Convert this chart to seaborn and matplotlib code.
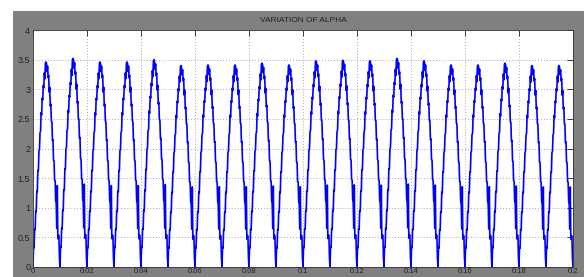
import numpy as np
import pandas as pd
import matplotlib
matplotlib.use("Agg")
import matplotlib.pyplot as plt
import seaborn as sns
from matplotlib.patches import Rectangle

# ---- data ----
title_text = "VARIATION OF ALPHA"
period = 0.01
n_cycles = 20
# one cycle of the (noisy) waveform, value every 0.0002 s
cycle_shape = [0.00, 0.33, 0.32, 0.63, 0.62, 0.93, 0.92, 1.26, 1.25, 1.60,
               1.60, 1.93, 1.95, 2.23, 2.25, 2.56, 2.52, 2.80, 2.77, 3.01,
               2.97, 3.22, 3.12, 3.38, 3.40, 3.38, 3.24, 3.33, 3.14, 3.18,
               2.90, 2.98, 2.67, 2.70, 2.42, 2.41, 2.10, 2.11, 1.77, 1.76,
               1.44, 1.43, 1.10, 1.06, 0.64, 1.35, 0.47, 0.53, 0.52, 0.15]
# peak value of each of the 20 cycles
cycle_peaks = [3.46, 3.52, 3.46, 3.46, 3.50, 3.40, 3.41, 3.41, 3.44, 3.41,
               3.48, 3.49, 3.48, 3.52, 3.48, 3.41, 3.41, 3.44, 3.40, 3.40]
x_ticks = [0, 0.02, 0.04, 0.06, 0.08, 0.1, 0.12, 0.14, 0.16, 0.18, 0.2]
x_tick_labels = ["0", "0.02", "0.04", "0.06", "0.08", "0.1", "0.12", "0.14", "0.16", "0.18", "0.2"]
y_ticks = [0, 0.5, 1, 1.5, 2, 2.5, 3, 3.5, 4]
y_tick_labels = ["0", "0.5", "1", "1.5", "2", "2.5", "3", "3.5", "4"]

# ---- build series ----
shape = np.array(cycle_shape)
n = len(shape)
dt = period / n
t_vals, y_vals = [], []
for k, pk in enumerate(cycle_peaks):
    t_vals.extend(k * period + np.arange(n) * dt)
    y_vals.extend(shape * pk / shape.max())
t_vals.append(n_cycles * period)
y_vals.append(0.0)
df = pd.DataFrame({"t": t_vals, "alpha": y_vals})

# ---- figure ----
sns.set_theme(style="white")
plt.rcParams["font.family"] = ["Liberation Sans", "DejaVu Sans"]
W, H = 584, 277
fig = plt.figure(figsize=(W / 100, H / 100), dpi=100, facecolor="white")
bg = Rectangle((13 / W, 0), 1 - 13 / W, (H - 11) / H,
               transform=fig.transFigure, facecolor="#808080",
               edgecolor="none", zorder=-10)
fig.add_artist(bg)
ax = fig.add_axes([33 / W, (H - 267) / H, 540 / W, 237 / H])
ax.set_zorder(5)
ax.set_facecolor("white")

sns.lineplot(data=df, x="t", y="alpha", ax=ax, color="#0000ff",
             linewidth=1.2, estimator=None, sort=False)

ax.set_xlim(0, 0.2)
ax.set_ylim(0, 4)
ax.set_xticks(x_ticks)
ax.set_xticklabels(x_tick_labels)
ax.set_yticks(y_ticks)
ax.set_yticklabels(y_tick_labels)
ax.set_xlabel("")
ax.set_ylabel("")
ax.grid(True, linestyle=(0, (1, 2.5)), color="#8a8a8a", linewidth=0.6)
ax.tick_params(axis="y", direction="in", length=4, width=0.6,
               labelsize=6.5, colors="#222222", right=True, pad=2)
ax.tick_params(axis="x", direction="in", length=4, width=0.6,
               labelsize=5.5, colors="#222222", top=True, pad=1)
for s in ax.spines.values():
    s.set_visible(True)
    s.set_color("#333333")
    s.set_linewidth(0.6)
ax.set_title(title_text, fontsize=6, color="#222222", pad=6)

fig.savefig("out.png", dpi=100, facecolor="white")
